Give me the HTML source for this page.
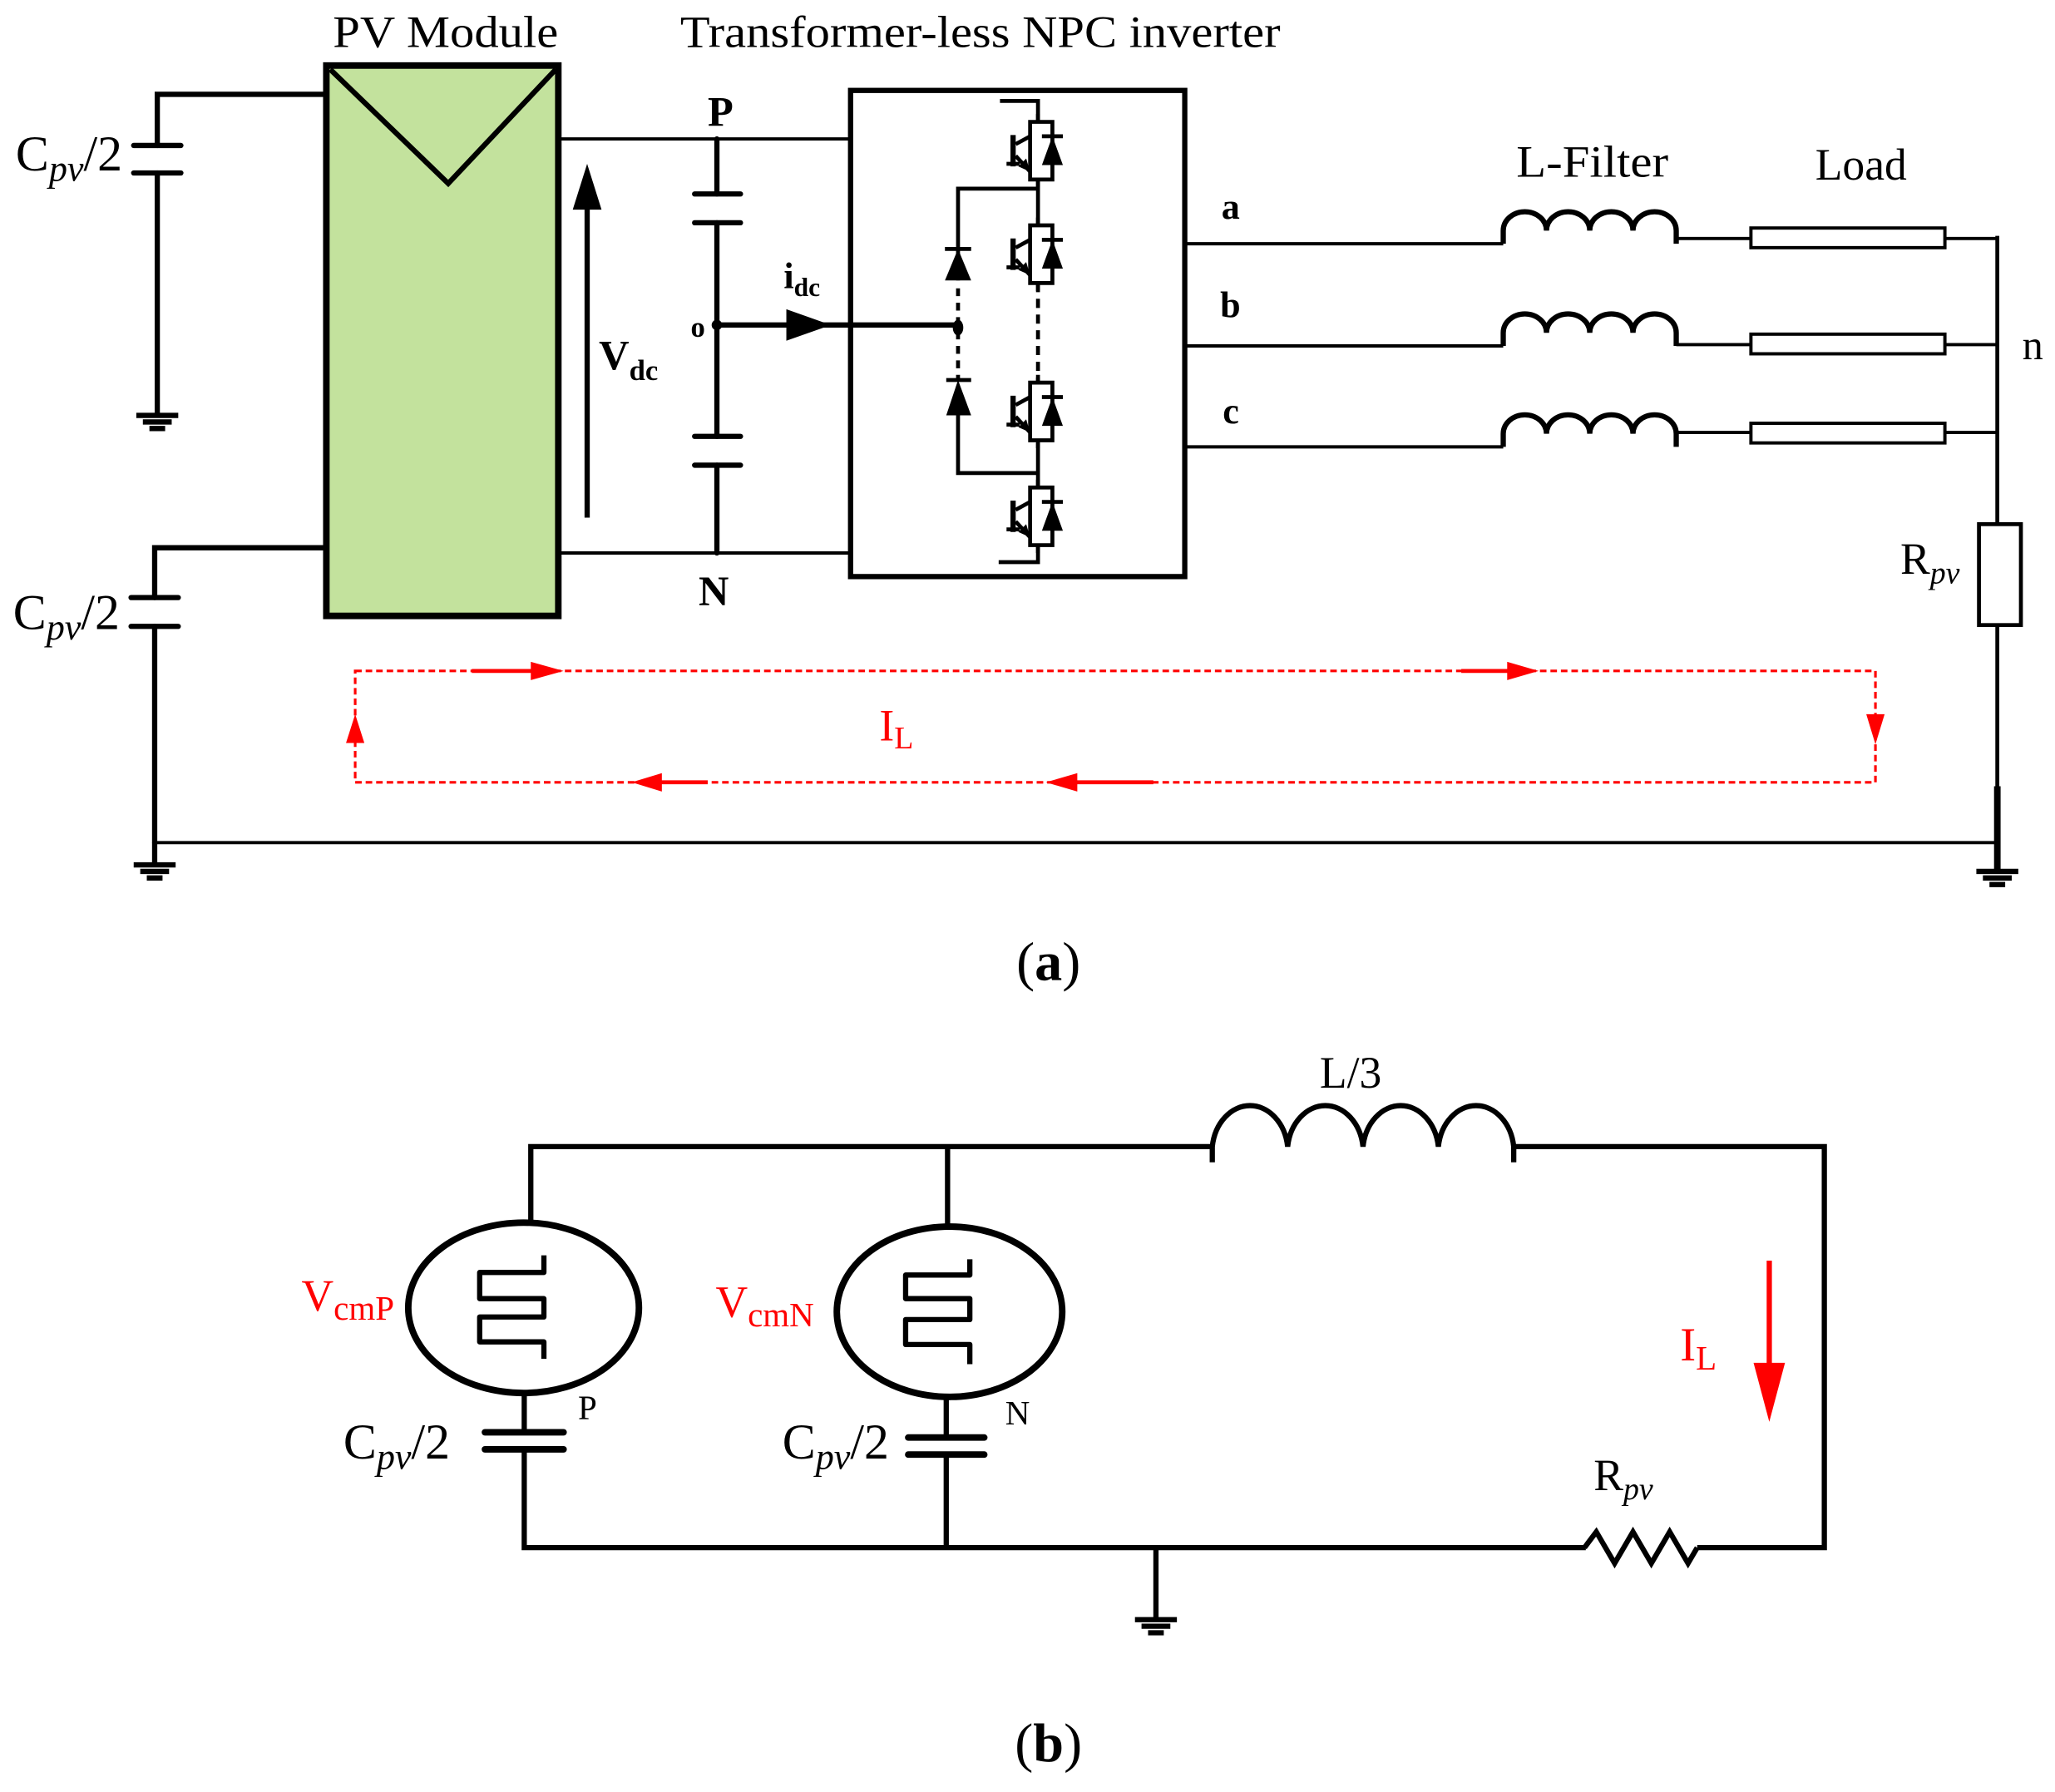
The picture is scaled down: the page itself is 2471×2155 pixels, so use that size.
<!DOCTYPE html>
<html><head><meta charset="utf-8"><style>
html,body{margin:0;padding:0;background:#fff;}
svg{display:block;}
text{font-family:"Liberation Serif",serif;}
</style></head><body>
<svg width="2471" height="2155" viewBox="0 0 1568 1367.5" xmlns="http://www.w3.org/2000/svg">
<defs>
<g id="igbt">
  <path d="M6,-6 V0 M0,0 H17 V44 H0 Z M6,44 V50" fill="none" stroke="#000" stroke-width="3"/>
  <line x1="-13" y1="10" x2="-13" y2="34" stroke="#000" stroke-width="4"/>
  <line x1="-18" y1="32" x2="-8" y2="32" stroke="#000" stroke-width="3"/>
  <line x1="-11" y1="17" x2="0" y2="11" stroke="#000" stroke-width="3"/>
  <line x1="-11" y1="26" x2="0" y2="38" stroke="#000" stroke-width="3"/>
  <polygon points="0,38 -9,34 -3,28" fill="#000"/>
  <line x1="9" y1="11" x2="25" y2="11" stroke="#000" stroke-width="3"/>
  <polygon points="9,33 25,33 17,11" fill="#000"/>
</g>
<g id="gnd">
  <line x1="-16" y1="0" x2="16" y2="0" stroke="#000" stroke-width="4"/>
  <line x1="-11" y1="5" x2="11" y2="5" stroke="#000" stroke-width="4"/>
  <line x1="-6" y1="10" x2="6" y2="10" stroke="#000" stroke-width="4"/>
</g>
</defs>

<!-- (a) -->
<text x="340" y="36" font-size="34" text-anchor="middle" textLength="172" lengthAdjust="spacingAndGlyphs">PV Module</text>
<text x="748" y="36" font-size="34" text-anchor="middle" textLength="458" lengthAdjust="spacingAndGlyphs">Transformer-less NPC inverter</text>

<!-- left caps -->
<g stroke="#000" fill="none" stroke-width="4" stroke-linecap="round">
<path d="M248,72 H120 V111"/>
<line x1="102" y1="111" x2="138" y2="111"/>
<line x1="102" y1="132" x2="138" y2="132"/>
<path d="M120,132 V316"/>
<path d="M248,418 H118 V456"/>
<line x1="100" y1="456" x2="136" y2="456"/>
<line x1="100" y1="478" x2="136" y2="478"/>
<path d="M118,478 V643"/>
</g>
<use href="#gnd" x="120" y="317"/>
<use href="#gnd" x="118" y="660"/>
<line x1="118" y1="643" x2="118" y2="660" stroke="#000" stroke-width="4"/>
<text x="12" y="130" font-size="38">C<tspan font-style="italic" font-size="28" dy="8">pv</tspan><tspan dy="-8">/2</tspan></text>
<text x="10" y="480" font-size="38">C<tspan font-style="italic" font-size="28" dy="8">pv</tspan><tspan dy="-8">/2</tspan></text>

<!-- PV module -->
<rect x="249" y="50" width="177" height="420" fill="#c3e29d" stroke="#000" stroke-width="5"/>
<path d="M252,53 L342,140 L424,53" fill="none" stroke="#000" stroke-width="4"/>

<!-- Vdc -->
<line x1="448" y1="395" x2="448" y2="150" stroke="#000" stroke-width="4"/>
<polygon points="437,160 459,160 448,125" fill="#000"/>
<text x="457" y="282" font-size="32" font-weight="bold">V<tspan font-size="22" dy="8">dc</tspan></text>

<!-- DC link -->
<g stroke="#000" fill="none" stroke-width="2.5">
<path d="M426,106 H648"/>
<path d="M426,422 H648"/>
</g>
<g stroke="#000" fill="none" stroke-width="4" stroke-linecap="round">
<path d="M547,106 V148"/>
<line x1="530" y1="148" x2="565" y2="148"/>
<line x1="530" y1="170" x2="565" y2="170"/>
<path d="M547,170 V333"/>
<line x1="530" y1="333" x2="565" y2="333"/>
<line x1="530" y1="355" x2="565" y2="355"/>
<path d="M547,355 V422"/>
<path d="M547,248 H730"/>
</g>
<circle cx="547" cy="248" r="4" fill="#000"/>
<polygon points="600,236 600,260 634,248" fill="#000"/>
<text x="540" y="96" font-size="32" font-weight="bold">P</text>
<text x="533" y="462" font-size="32" font-weight="bold">N</text>
<text x="527" y="257" font-size="22" font-weight="bold">o</text>
<text x="598" y="220" font-size="28" font-weight="bold">i<tspan font-size="20" dy="6">dc</tspan></text>

<!-- inverter box -->
<rect x="649" y="69" width="255" height="371" fill="none" stroke="#000" stroke-width="4"/>
<g stroke="#000" fill="none" stroke-width="3">
<path d="M763,77 H792 V93"/>
<path d="M792,137 V172"/>
<path d="M792,338 V372"/>
<path d="M792,415 V429 H762"/>
<path d="M792,216 V292" stroke-dasharray="7,5"/>
<path d="M792,144 H731 V214"/>
<path d="M792,361 H731 V317"/>
<path d="M731,220 V290" stroke-dasharray="6,5"/>
</g>
<use href="#igbt" x="786" y="93"/>
<use href="#igbt" x="786" y="172"/>
<use href="#igbt" x="786" y="292"/>
<use href="#igbt" x="786" y="372"/>
<g fill="#000">
<line x1="721" y1="190" x2="741" y2="190" stroke="#000" stroke-width="3"/>
<polygon points="721,214 741,214 731,190"/>
<line x1="722" y1="290" x2="741" y2="290" stroke="#000" stroke-width="3"/>
<polygon points="722,317 741,317 731,290"/>
<ellipse cx="731" cy="250" rx="4" ry="6"/>
</g>

<!-- outputs -->
<g stroke="#000" fill="none" stroke-width="2.5">
<path d="M904,186 H1147"/>
<path d="M904,264 H1147"/>
<path d="M904,341 H1147"/>
</g>
<g stroke="#000" fill="none" stroke-width="4">
<path d="M1147,186 v-10 a16,14 0 0 1 33,0 a16,14 0 0 1 33,0 a16,14 0 0 1 33,0 a16,14 0 0 1 33,0 v10"/>
<path d="M1147,264 v-10 a16,14 0 0 1 33,0 a16,14 0 0 1 33,0 a16,14 0 0 1 33,0 a16,14 0 0 1 33,0 v10"/>
<path d="M1147,341 v-10 a16,14 0 0 1 33,0 a16,14 0 0 1 33,0 a16,14 0 0 1 33,0 a16,14 0 0 1 33,0 v10"/>
</g>
<g stroke="#000" fill="none" stroke-width="2.5">
<path d="M1279,182 H1336 M1484,182 H1524"/>
<path d="M1279,263 H1336 M1484,263 H1524"/>
<path d="M1279,330 H1336 M1484,330 H1524"/>
<rect x="1336" y="174" width="148" height="15"/>
<rect x="1336" y="255" width="148" height="15"/>
<rect x="1336" y="323" width="148" height="15"/>
</g>
<g stroke="#000" fill="none" stroke-width="3">
<path d="M1524,180 V400"/>
<path d="M1524,477 V600"/>
<rect x="1510" y="400" width="32" height="77"/>
</g>
<line x1="1524" y1="600" x2="1524" y2="665" stroke="#000" stroke-width="5"/>
<use href="#gnd" x="1524" y="665"/>
<line x1="118" y1="643" x2="1524" y2="643" stroke="#000" stroke-width="2.5"/>
<text x="932" y="167" font-size="28" font-weight="bold">a</text>
<text x="931" y="242" font-size="28" font-weight="bold">b</text>
<text x="933" y="323" font-size="28" font-weight="bold">c</text>
<text x="1215" y="135" font-size="34" text-anchor="middle" textLength="116" lengthAdjust="spacingAndGlyphs">L-Filter</text>
<text x="1420" y="137" font-size="34" text-anchor="middle">Load</text>
<text x="1543" y="274" font-size="32">n</text>
<text x="1450" y="438" font-size="34">R<tspan font-style="italic" font-size="24" dy="7">pv</tspan></text>

<!-- red loop -->
<rect x="271" y="512" width="1160" height="85" fill="none" stroke="#f00" stroke-width="2" stroke-dasharray="5,3"/>
<g stroke="#f00" stroke-width="3">
<line x1="360" y1="512" x2="410" y2="512"/>
<line x1="1115" y1="512" x2="1155" y2="512"/>
<line x1="500" y1="597" x2="540" y2="597"/>
<line x1="815" y1="597" x2="880" y2="597"/>
</g>
<g fill="#f00">
<polygon points="405,505 405,519 430,512"/>
<polygon points="1150,505 1150,519 1174,512"/>
<polygon points="505,590 505,604 482,597"/>
<polygon points="822,590 822,604 798,597"/>
<polygon points="1424,545 1438,545 1431,568"/>
<polygon points="264,567 278,567 271,545"/>
</g>
<text x="671" y="565" font-size="34" fill="#f00">I<tspan font-size="24" dy="6">L</tspan></text>

<text x="800" y="748" font-size="42" text-anchor="middle">(<tspan font-weight="bold">a</tspan>)</text>

<!-- (b) -->
<g stroke="#000" fill="none" stroke-width="4">
<path d="M405,933 V875 H925"/>
<path d="M723,875 V936"/>
<path d="M925,887 v-12 a29,36 0 0 1 57.5,0 a29,36 0 0 1 57.5,0 a29,36 0 0 1 57.5,0 a29,36 0 0 1 57.5,0 v12"/>
<path d="M1155,875 H1392 V1181 H1295"/>
<path d="M1295,1181 l-7,12 l-14,-24 l-14,24 l-14,-24 l-14,24 l-14,-24 l-9,12"/>
<path d="M1210,1181 H400 V1107"/>
<path d="M400,1092 V1064"/>
<path d="M722,1097 V1067"/>
<path d="M722,1111 V1181"/>
<path d="M882,1181 V1235"/>
</g>
<g stroke="#000" stroke-width="5" stroke-linecap="round">
<line x1="370" y1="1093" x2="430" y2="1093"/>
<line x1="370" y1="1106" x2="430" y2="1106"/>
<line x1="693" y1="1097" x2="751" y2="1097"/>
<line x1="693" y1="1110" x2="751" y2="1110"/>
</g>
<use href="#gnd" x="882" y="1236"/>
<ellipse cx="399.5" cy="998" rx="88" ry="65" fill="none" stroke="#000" stroke-width="5"/>
<ellipse cx="724.5" cy="1001" rx="86" ry="65" fill="none" stroke="#000" stroke-width="5"/>
<path d="M415,958 V971 H366 V991 H415 V1005 H366 V1024 H415 V1037" fill="none" stroke="#000" stroke-width="4" stroke-linejoin="round"/>
<path d="M740,961 V973 H691 V991 H740 V1007 H691 V1026 H740 V1041" fill="none" stroke="#000" stroke-width="4" stroke-linejoin="round"/>
<text x="230" y="1000" font-size="34" fill="#f00">V<tspan font-size="26" dy="7">cmP</tspan></text>
<text x="546" y="1005" font-size="34" fill="#f00">V<tspan font-size="26" dy="7">cmN</tspan></text>
<text x="441" y="1083" font-size="26">P</text>
<text x="767" y="1087" font-size="26">N</text>
<text x="262" y="1113" font-size="38">C<tspan font-style="italic" font-size="28" dy="8">pv</tspan><tspan dy="-8">/2</tspan></text>
<text x="597" y="1113" font-size="38">C<tspan font-style="italic" font-size="28" dy="8">pv</tspan><tspan dy="-8">/2</tspan></text>
<text x="1007" y="830" font-size="34">L/3</text>
<text x="1216" y="1137" font-size="34">R<tspan font-style="italic" font-size="24" dy="7">pv</tspan></text>
<text x="1282" y="1038" font-size="36" fill="#f00">I<tspan font-size="26" dy="7">L</tspan></text>
<line x1="1350" y1="962" x2="1350" y2="1045" stroke="#f00" stroke-width="4"/>
<polygon points="1338,1040 1362,1040 1350,1085" fill="#f00"/>
<text x="800" y="1344" font-size="42" text-anchor="middle">(<tspan font-weight="bold">b</tspan>)</text>
</svg>
</body></html>
